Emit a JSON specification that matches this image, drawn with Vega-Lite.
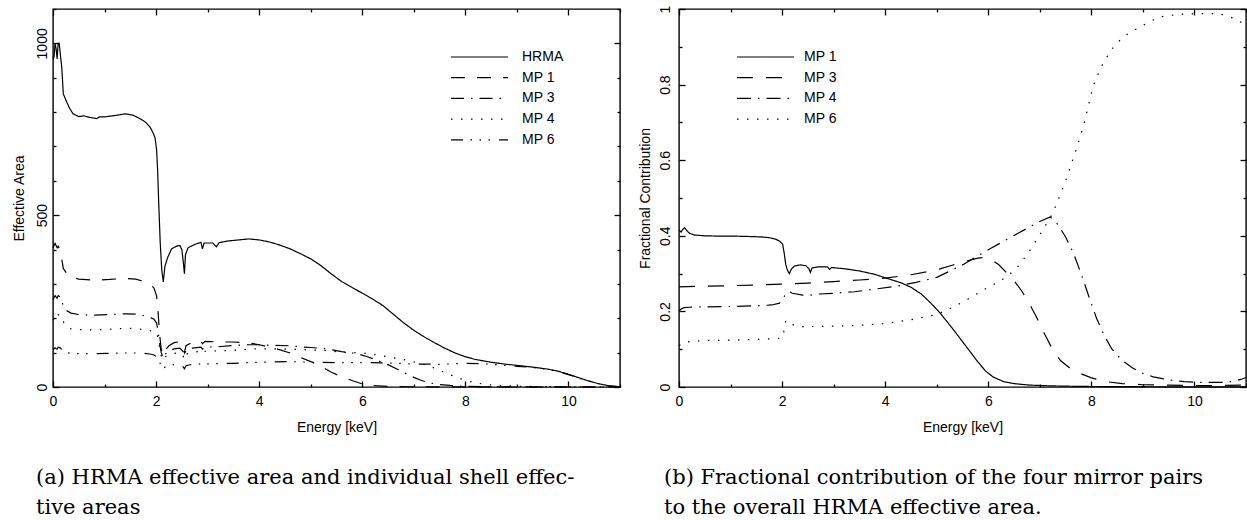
{
  "$schema": "https://vega.github.io/schema/vega-lite/v6.json",
  "padding": {"left": 11, "top": 4, "right": 0, "bottom": 0},
  "background": "white",
  "config": {
    "view": {"stroke": "black", "strokeWidth": 1.4},
    "font": "Liberation Sans",
    "axis": {"domain": false, "tickColor": "black", "labelColor": "black", "titleColor": "black", "labelFont": "Liberation Sans", "titleFont": "Liberation Sans", "labelFontSize": 14, "titleFontSize": 14, "titleFontWeight": "normal", "grid": false, "tickWidth": 1.3, "labelFlush": false, "labelOverlap": false},
    "legend": {"orient": "none", "symbolType": "stroke", "symbolSize": 3249, "symbolStrokeWidth": 1.2, "symbolStrokeColor": "black", "clipHeight": 14, "rowPadding": 6.7, "labelFont": "Liberation Sans", "labelFontSize": 14, "labelColor": "black", "padding": 0, "title": null},
    "title": {"font": "DejaVu Serif", "fontSize": 21, "fontWeight": "normal", "color": "black", "lineHeight": 30}
  },
  "datasets": {
    "area": [
      {"series":"HRMA","E":0.0,"value":955},{"series":"HRMA","E":0.02,"value":960},{"series":"HRMA","E":0.04,"value":1000},{"series":"HRMA","E":0.06,"value":985},{"series":"HRMA","E":0.08,"value":955},{"series":"HRMA","E":0.1,"value":1000},{"series":"HRMA","E":0.12,"value":1000},{"series":"HRMA","E":0.17,"value":930},{"series":"HRMA","E":0.2,"value":853},{"series":"HRMA","E":0.27,"value":828},{"series":"HRMA","E":0.33,"value":809},{"series":"HRMA","E":0.39,"value":795},{"series":"HRMA","E":0.5,"value":787},{"series":"HRMA","E":0.6,"value":789},{"series":"HRMA","E":0.7,"value":785},{"series":"HRMA","E":0.85,"value":781},{"series":"HRMA","E":0.9,"value":786},{"series":"HRMA","E":1.0,"value":786},{"series":"HRMA","E":1.2,"value":790},{"series":"HRMA","E":1.4,"value":795},{"series":"HRMA","E":1.55,"value":791},{"series":"HRMA","E":1.7,"value":780},{"series":"HRMA","E":1.8,"value":770},{"series":"HRMA","E":1.88,"value":757},{"series":"HRMA","E":1.94,"value":740},{"series":"HRMA","E":1.98,"value":725},{"series":"HRMA","E":2.01,"value":690},{"series":"HRMA","E":2.03,"value":630},{"series":"HRMA","E":2.05,"value":540},{"series":"HRMA","E":2.08,"value":420},{"series":"HRMA","E":2.11,"value":340},{"series":"HRMA","E":2.14,"value":306},{"series":"HRMA","E":2.17,"value":350},{"series":"HRMA","E":2.22,"value":375},{"series":"HRMA","E":2.3,"value":402},{"series":"HRMA","E":2.4,"value":410},{"series":"HRMA","E":2.46,"value":412},{"series":"HRMA","E":2.5,"value":400},{"series":"HRMA","E":2.53,"value":360},{"series":"HRMA","E":2.55,"value":330},{"series":"HRMA","E":2.57,"value":385},{"series":"HRMA","E":2.62,"value":405},{"series":"HRMA","E":2.75,"value":415},{"series":"HRMA","E":2.87,"value":421},{"series":"HRMA","E":2.9,"value":402},{"series":"HRMA","E":2.93,"value":419},{"series":"HRMA","E":3.1,"value":419},{"series":"HRMA","E":3.17,"value":408},{"series":"HRMA","E":3.22,"value":420},{"series":"HRMA","E":3.4,"value":425},{"series":"HRMA","E":3.6,"value":428},{"series":"HRMA","E":3.8,"value":431},{"series":"HRMA","E":4.0,"value":428},{"series":"HRMA","E":4.2,"value":422},{"series":"HRMA","E":4.4,"value":413},{"series":"HRMA","E":4.6,"value":402},{"series":"HRMA","E":4.8,"value":388},{"series":"HRMA","E":5.0,"value":373},{"series":"HRMA","E":5.2,"value":353},{"series":"HRMA","E":5.4,"value":329},{"series":"HRMA","E":5.6,"value":307},{"series":"HRMA","E":5.8,"value":290},{"series":"HRMA","E":6.0,"value":273},{"series":"HRMA","E":6.2,"value":256},{"series":"HRMA","E":6.4,"value":237},{"series":"HRMA","E":6.6,"value":212},{"series":"HRMA","E":6.8,"value":187},{"series":"HRMA","E":7.0,"value":165},{"series":"HRMA","E":7.2,"value":146},{"series":"HRMA","E":7.4,"value":129},{"series":"HRMA","E":7.6,"value":113},{"series":"HRMA","E":7.8,"value":99},{"series":"HRMA","E":8.0,"value":88},{"series":"HRMA","E":8.2,"value":80},{"series":"HRMA","E":8.5,"value":72},{"series":"HRMA","E":8.8,"value":66},{"series":"HRMA","E":9.0,"value":63},{"series":"HRMA","E":9.3,"value":58},{"series":"HRMA","E":9.6,"value":52},{"series":"HRMA","E":9.8,"value":46},{"series":"HRMA","E":10.0,"value":37},{"series":"HRMA","E":10.2,"value":27},{"series":"HRMA","E":10.4,"value":17},{"series":"HRMA","E":10.6,"value":9},{"series":"HRMA","E":10.8,"value":3},{"series":"HRMA","E":11.0,"value":0.5},
      {"series":"MP 1","E":0.0,"value":405},{"series":"MP 1","E":0.04,"value":418},{"series":"MP 1","E":0.08,"value":405},{"series":"MP 1","E":0.1,"value":410},{"series":"MP 1","E":0.14,"value":400},{"series":"MP 1","E":0.2,"value":345},{"series":"MP 1","E":0.27,"value":330},{"series":"MP 1","E":0.35,"value":320},{"series":"MP 1","E":0.5,"value":314},{"series":"MP 1","E":0.8,"value":311},{"series":"MP 1","E":1.1,"value":313},{"series":"MP 1","E":1.4,"value":316},{"series":"MP 1","E":1.6,"value":314},{"series":"MP 1","E":1.75,"value":308},{"series":"MP 1","E":1.88,"value":299},{"series":"MP 1","E":1.96,"value":288},{"series":"MP 1","E":2.01,"value":265},{"series":"MP 1","E":2.04,"value":215},{"series":"MP 1","E":2.07,"value":150},{"series":"MP 1","E":2.1,"value":110},{"series":"MP 1","E":2.14,"value":92},{"series":"MP 1","E":2.18,"value":108},{"series":"MP 1","E":2.25,"value":120},{"series":"MP 1","E":2.35,"value":129},{"series":"MP 1","E":2.46,"value":132},{"series":"MP 1","E":2.52,"value":115},{"series":"MP 1","E":2.55,"value":100},{"series":"MP 1","E":2.58,"value":120},{"series":"MP 1","E":2.7,"value":130},{"series":"MP 1","E":2.87,"value":134},{"series":"MP 1","E":2.9,"value":126},{"series":"MP 1","E":2.95,"value":133},{"series":"MP 1","E":3.2,"value":131},{"series":"MP 1","E":3.5,"value":131},{"series":"MP 1","E":3.8,"value":128},{"series":"MP 1","E":4.0,"value":123},{"series":"MP 1","E":4.3,"value":113},{"series":"MP 1","E":4.6,"value":99},{"series":"MP 1","E":4.8,"value":86},{"series":"MP 1","E":5.0,"value":74},{"series":"MP 1","E":5.2,"value":60},{"series":"MP 1","E":5.4,"value":43},{"series":"MP 1","E":5.6,"value":30},{"series":"MP 1","E":5.8,"value":19},{"series":"MP 1","E":6.0,"value":9},{"series":"MP 1","E":6.2,"value":4.6},{"series":"MP 1","E":6.5,"value":2},{"series":"MP 1","E":7.0,"value":0.7},{"series":"MP 1","E":7.5,"value":0.3},{"series":"MP 1","E":8.0,"value":0.1},{"series":"MP 1","E":9.0,"value":0.05},{"series":"MP 1","E":10.0,"value":0.02},{"series":"MP 1","E":11.0,"value":0},
      {"series":"MP 3","E":0.0,"value":254},{"series":"MP 3","E":0.04,"value":266},{"series":"MP 3","E":0.08,"value":258},{"series":"MP 3","E":0.1,"value":266},{"series":"MP 3","E":0.14,"value":262},{"series":"MP 3","E":0.2,"value":236},{"series":"MP 3","E":0.27,"value":222},{"series":"MP 3","E":0.35,"value":215},{"series":"MP 3","E":0.5,"value":211},{"series":"MP 3","E":0.8,"value":209},{"series":"MP 3","E":1.1,"value":211},{"series":"MP 3","E":1.4,"value":213},{"series":"MP 3","E":1.6,"value":212},{"series":"MP 3","E":1.75,"value":208},{"series":"MP 3","E":1.88,"value":203},{"series":"MP 3","E":1.96,"value":197},{"series":"MP 3","E":2.01,"value":186},{"series":"MP 3","E":2.04,"value":160},{"series":"MP 3","E":2.07,"value":125},{"series":"MP 3","E":2.1,"value":100},{"series":"MP 3","E":2.14,"value":84},{"series":"MP 3","E":2.18,"value":96},{"series":"MP 3","E":2.25,"value":105},{"series":"MP 3","E":2.35,"value":111},{"series":"MP 3","E":2.46,"value":113},{"series":"MP 3","E":2.52,"value":104},{"series":"MP 3","E":2.55,"value":91},{"series":"MP 3","E":2.58,"value":106},{"series":"MP 3","E":2.7,"value":113},{"series":"MP 3","E":2.87,"value":116},{"series":"MP 3","E":2.9,"value":110},{"series":"MP 3","E":2.95,"value":116},{"series":"MP 3","E":3.2,"value":117},{"series":"MP 3","E":3.5,"value":121},{"series":"MP 3","E":3.8,"value":123},{"series":"MP 3","E":4.0,"value":123},{"series":"MP 3","E":4.3,"value":121},{"series":"MP 3","E":4.6,"value":120},{"series":"MP 3","E":4.8,"value":117},{"series":"MP 3","E":5.0,"value":115},{"series":"MP 3","E":5.3,"value":111},{"series":"MP 3","E":5.6,"value":103},{"series":"MP 3","E":5.9,"value":97},{"series":"MP 3","E":6.1,"value":88},{"series":"MP 3","E":6.3,"value":77},{"series":"MP 3","E":6.5,"value":65},{"series":"MP 3","E":6.7,"value":50},{"series":"MP 3","E":6.85,"value":39},{"series":"MP 3","E":7.0,"value":28},{"series":"MP 3","E":7.15,"value":19},{"series":"MP 3","E":7.3,"value":12},{"series":"MP 3","E":7.5,"value":7},{"series":"MP 3","E":7.7,"value":4.5},{"series":"MP 3","E":8.0,"value":2},{"series":"MP 3","E":8.5,"value":0.6},{"series":"MP 3","E":9.0,"value":0.4},{"series":"MP 3","E":10.0,"value":0.15},{"series":"MP 3","E":11.0,"value":0},
      {"series":"MP 4","E":0.0,"value":194},{"series":"MP 4","E":0.04,"value":205},{"series":"MP 4","E":0.08,"value":200},{"series":"MP 4","E":0.1,"value":210},{"series":"MP 4","E":0.14,"value":210},{"series":"MP 4","E":0.2,"value":190},{"series":"MP 4","E":0.27,"value":175},{"series":"MP 4","E":0.35,"value":169},{"series":"MP 4","E":0.5,"value":167},{"series":"MP 4","E":0.8,"value":166},{"series":"MP 4","E":1.1,"value":168},{"series":"MP 4","E":1.4,"value":171},{"series":"MP 4","E":1.6,"value":170},{"series":"MP 4","E":1.75,"value":167},{"series":"MP 4","E":1.88,"value":164},{"series":"MP 4","E":1.96,"value":161},{"series":"MP 4","E":2.01,"value":158},{"series":"MP 4","E":2.04,"value":140},{"series":"MP 4","E":2.07,"value":112},{"series":"MP 4","E":2.1,"value":90},{"series":"MP 4","E":2.14,"value":77},{"series":"MP 4","E":2.18,"value":88},{"series":"MP 4","E":2.25,"value":93},{"series":"MP 4","E":2.35,"value":98},{"series":"MP 4","E":2.46,"value":100},{"series":"MP 4","E":2.52,"value":92},{"series":"MP 4","E":2.55,"value":80},{"series":"MP 4","E":2.58,"value":95},{"series":"MP 4","E":2.7,"value":101},{"series":"MP 4","E":2.87,"value":104},{"series":"MP 4","E":2.9,"value":98},{"series":"MP 4","E":2.95,"value":104},{"series":"MP 4","E":3.2,"value":105},{"series":"MP 4","E":3.5,"value":107},{"series":"MP 4","E":3.8,"value":110},{"series":"MP 4","E":4.0,"value":111},{"series":"MP 4","E":4.3,"value":111},{"series":"MP 4","E":4.6,"value":110},{"series":"MP 4","E":4.8,"value":109},{"series":"MP 4","E":5.0,"value":108},{"series":"MP 4","E":5.3,"value":106},{"series":"MP 4","E":5.6,"value":101},{"series":"MP 4","E":6.0,"value":99},{"series":"MP 4","E":6.3,"value":93},{"series":"MP 4","E":6.6,"value":85},{"series":"MP 4","E":6.9,"value":77},{"series":"MP 4","E":7.1,"value":69},{"series":"MP 4","E":7.25,"value":64},{"series":"MP 4","E":7.4,"value":55},{"series":"MP 4","E":7.6,"value":42},{"series":"MP 4","E":7.8,"value":30},{"series":"MP 4","E":8.0,"value":19},{"series":"MP 4","E":8.2,"value":12},{"series":"MP 4","E":8.4,"value":7.5},{"series":"MP 4","E":8.6,"value":5},{"series":"MP 4","E":9.0,"value":2.3},{"series":"MP 4","E":9.5,"value":1.1},{"series":"MP 4","E":10.0,"value":0.5},{"series":"MP 4","E":10.5,"value":0.2},{"series":"MP 4","E":11.0,"value":0},
      {"series":"MP 6","E":0.0,"value":108},{"series":"MP 6","E":0.04,"value":114},{"series":"MP 6","E":0.08,"value":110},{"series":"MP 6","E":0.1,"value":116},{"series":"MP 6","E":0.14,"value":114},{"series":"MP 6","E":0.2,"value":105},{"series":"MP 6","E":0.27,"value":100},{"series":"MP 6","E":0.35,"value":98},{"series":"MP 6","E":0.5,"value":97},{"series":"MP 6","E":0.8,"value":97},{"series":"MP 6","E":1.1,"value":98},{"series":"MP 6","E":1.4,"value":99},{"series":"MP 6","E":1.6,"value":99},{"series":"MP 6","E":1.75,"value":98},{"series":"MP 6","E":1.88,"value":96},{"series":"MP 6","E":1.96,"value":93},{"series":"MP 6","E":2.01,"value":88},{"series":"MP 6","E":2.04,"value":80},{"series":"MP 6","E":2.07,"value":72},{"series":"MP 6","E":2.1,"value":60},{"series":"MP 6","E":2.14,"value":52},{"series":"MP 6","E":2.18,"value":59},{"series":"MP 6","E":2.25,"value":62},{"series":"MP 6","E":2.35,"value":65},{"series":"MP 6","E":2.46,"value":65},{"series":"MP 6","E":2.52,"value":60},{"series":"MP 6","E":2.55,"value":53},{"series":"MP 6","E":2.58,"value":62},{"series":"MP 6","E":2.7,"value":66},{"series":"MP 6","E":2.87,"value":67},{"series":"MP 6","E":2.9,"value":64},{"series":"MP 6","E":2.95,"value":67},{"series":"MP 6","E":3.2,"value":68},{"series":"MP 6","E":3.5,"value":69},{"series":"MP 6","E":3.8,"value":71},{"series":"MP 6","E":4.0,"value":72},{"series":"MP 6","E":4.3,"value":73},{"series":"MP 6","E":4.6,"value":74},{"series":"MP 6","E":5.0,"value":72},{"series":"MP 6","E":5.5,"value":71},{"series":"MP 6","E":6.0,"value":71},{"series":"MP 6","E":6.5,"value":70},{"series":"MP 6","E":7.0,"value":67},{"series":"MP 6","E":7.5,"value":66},{"series":"MP 6","E":8.0,"value":69},{"series":"MP 6","E":8.3,"value":68},{"series":"MP 6","E":8.6,"value":65},{"series":"MP 6","E":9.0,"value":60},{"series":"MP 6","E":9.3,"value":57},{"series":"MP 6","E":9.6,"value":51},{"series":"MP 6","E":9.8,"value":45},{"series":"MP 6","E":10.0,"value":36},{"series":"MP 6","E":10.2,"value":26},{"series":"MP 6","E":10.4,"value":17},{"series":"MP 6","E":10.6,"value":9},{"series":"MP 6","E":10.8,"value":3},{"series":"MP 6","E":11.0,"value":0.5}
    ],
    "frac": [
      {"series":"MP 1","E":0.0,"value":0.415},{"series":"MP 1","E":0.04,"value":0.41},{"series":"MP 1","E":0.08,"value":0.418},{"series":"MP 1","E":0.11,"value":0.421},{"series":"MP 1","E":0.15,"value":0.414},{"series":"MP 1","E":0.2,"value":0.407},{"series":"MP 1","E":0.3,"value":0.402},{"series":"MP 1","E":0.5,"value":0.4},{"series":"MP 1","E":0.8,"value":0.399},{"series":"MP 1","E":1.1,"value":0.399},{"series":"MP 1","E":1.4,"value":0.398},{"series":"MP 1","E":1.6,"value":0.397},{"series":"MP 1","E":1.75,"value":0.395},{"series":"MP 1","E":1.88,"value":0.391},{"series":"MP 1","E":1.96,"value":0.385},{"series":"MP 1","E":2.01,"value":0.378},{"series":"MP 1","E":2.04,"value":0.355},{"series":"MP 1","E":2.07,"value":0.325},{"series":"MP 1","E":2.1,"value":0.31},{"series":"MP 1","E":2.14,"value":0.3},{"series":"MP 1","E":2.18,"value":0.312},{"series":"MP 1","E":2.24,"value":0.32},{"series":"MP 1","E":2.35,"value":0.323},{"series":"MP 1","E":2.46,"value":0.321},{"series":"MP 1","E":2.52,"value":0.313},{"series":"MP 1","E":2.55,"value":0.303},{"series":"MP 1","E":2.58,"value":0.315},{"series":"MP 1","E":2.7,"value":0.318},{"series":"MP 1","E":2.88,"value":0.318},{"series":"MP 1","E":2.92,"value":0.311},{"series":"MP 1","E":2.96,"value":0.316},{"series":"MP 1","E":3.2,"value":0.313},{"series":"MP 1","E":3.5,"value":0.307},{"series":"MP 1","E":3.8,"value":0.298},{"series":"MP 1","E":4.0,"value":0.289},{"series":"MP 1","E":4.3,"value":0.276},{"series":"MP 1","E":4.5,"value":0.264},{"series":"MP 1","E":4.7,"value":0.246},{"series":"MP 1","E":4.9,"value":0.22},{"series":"MP 1","E":5.05,"value":0.198},{"series":"MP 1","E":5.2,"value":0.173},{"series":"MP 1","E":5.35,"value":0.147},{"series":"MP 1","E":5.5,"value":0.12},{"series":"MP 1","E":5.65,"value":0.093},{"series":"MP 1","E":5.8,"value":0.066},{"series":"MP 1","E":5.95,"value":0.042},{"series":"MP 1","E":6.1,"value":0.026},{"series":"MP 1","E":6.3,"value":0.014},{"series":"MP 1","E":6.5,"value":0.009},{"series":"MP 1","E":6.8,"value":0.005},{"series":"MP 1","E":7.2,"value":0.003},{"series":"MP 1","E":7.8,"value":0.0015},{"series":"MP 1","E":8.5,"value":0.001},{"series":"MP 1","E":9.5,"value":0.0005},{"series":"MP 1","E":11.0,"value":0.0003},
      {"series":"MP 3","E":0.0,"value":0.265},{"series":"MP 3","E":0.5,"value":0.267},{"series":"MP 3","E":1.0,"value":0.268},{"series":"MP 3","E":1.5,"value":0.27},{"series":"MP 3","E":2.0,"value":0.272},{"series":"MP 3","E":2.5,"value":0.275},{"series":"MP 3","E":3.0,"value":0.279},{"series":"MP 3","E":3.5,"value":0.283},{"series":"MP 3","E":4.0,"value":0.288},{"series":"MP 3","E":4.5,"value":0.297},{"series":"MP 3","E":5.0,"value":0.31},{"series":"MP 3","E":5.3,"value":0.322},{"series":"MP 3","E":5.6,"value":0.334},{"series":"MP 3","E":5.8,"value":0.341},{"series":"MP 3","E":5.93,"value":0.343},{"series":"MP 3","E":6.05,"value":0.338},{"series":"MP 3","E":6.2,"value":0.324},{"series":"MP 3","E":6.35,"value":0.303},{"series":"MP 3","E":6.5,"value":0.281},{"series":"MP 3","E":6.65,"value":0.254},{"series":"MP 3","E":6.8,"value":0.22},{"series":"MP 3","E":6.95,"value":0.181},{"series":"MP 3","E":7.1,"value":0.138},{"series":"MP 3","E":7.25,"value":0.099},{"series":"MP 3","E":7.4,"value":0.07},{"series":"MP 3","E":7.6,"value":0.048},{"series":"MP 3","E":7.8,"value":0.035},{"series":"MP 3","E":8.0,"value":0.024},{"series":"MP 3","E":8.3,"value":0.014},{"series":"MP 3","E":8.6,"value":0.009},{"series":"MP 3","E":9.0,"value":0.006},{"series":"MP 3","E":9.5,"value":0.005},{"series":"MP 3","E":10.0,"value":0.004},{"series":"MP 3","E":10.5,"value":0.004},{"series":"MP 3","E":11.0,"value":0.005},
      {"series":"MP 4","E":0.0,"value":0.202},{"series":"MP 4","E":0.05,"value":0.207},{"series":"MP 4","E":0.1,"value":0.21},{"series":"MP 4","E":0.2,"value":0.211},{"series":"MP 4","E":0.5,"value":0.212},{"series":"MP 4","E":1.0,"value":0.213},{"series":"MP 4","E":1.5,"value":0.215},{"series":"MP 4","E":1.8,"value":0.217},{"series":"MP 4","E":1.95,"value":0.222},{"series":"MP 4","E":2.02,"value":0.232},{"series":"MP 4","E":2.06,"value":0.245},{"series":"MP 4","E":2.1,"value":0.251},{"series":"MP 4","E":2.14,"value":0.252},{"series":"MP 4","E":2.2,"value":0.248},{"series":"MP 4","E":2.4,"value":0.243},{"series":"MP 4","E":2.55,"value":0.243},{"series":"MP 4","E":2.7,"value":0.246},{"series":"MP 4","E":3.0,"value":0.248},{"series":"MP 4","E":3.4,"value":0.252},{"series":"MP 4","E":3.8,"value":0.259},{"series":"MP 4","E":4.2,"value":0.266},{"series":"MP 4","E":4.6,"value":0.277},{"series":"MP 4","E":5.0,"value":0.29},{"series":"MP 4","E":5.5,"value":0.323},{"series":"MP 4","E":6.0,"value":0.363},{"series":"MP 4","E":6.5,"value":0.401},{"series":"MP 4","E":7.0,"value":0.438},{"series":"MP 4","E":7.2,"value":0.45},{"series":"MP 4","E":7.35,"value":0.43},{"series":"MP 4","E":7.5,"value":0.397},{"series":"MP 4","E":7.65,"value":0.355},{"series":"MP 4","E":7.8,"value":0.3},{"series":"MP 4","E":7.95,"value":0.24},{"series":"MP 4","E":8.1,"value":0.182},{"series":"MP 4","E":8.25,"value":0.136},{"series":"MP 4","E":8.4,"value":0.1},{"series":"MP 4","E":8.6,"value":0.07},{"series":"MP 4","E":8.8,"value":0.05},{"series":"MP 4","E":9.0,"value":0.036},{"series":"MP 4","E":9.2,"value":0.027},{"series":"MP 4","E":9.5,"value":0.019},{"series":"MP 4","E":9.8,"value":0.014},{"series":"MP 4","E":10.2,"value":0.012},{"series":"MP 4","E":10.5,"value":0.012},{"series":"MP 4","E":10.7,"value":0.014},{"series":"MP 4","E":10.9,"value":0.02},{"series":"MP 4","E":11.0,"value":0.025},
      {"series":"MP 6","E":0.0,"value":0.11},{"series":"MP 6","E":0.05,"value":0.112},{"series":"MP 6","E":0.1,"value":0.118},{"series":"MP 6","E":0.2,"value":0.12},{"series":"MP 6","E":0.5,"value":0.123},{"series":"MP 6","E":1.0,"value":0.124},{"series":"MP 6","E":1.5,"value":0.126},{"series":"MP 6","E":1.9,"value":0.128},{"series":"MP 6","E":2.0,"value":0.13},{"series":"MP 6","E":2.04,"value":0.15},{"series":"MP 6","E":2.07,"value":0.176},{"series":"MP 6","E":2.12,"value":0.17},{"series":"MP 6","E":2.2,"value":0.165},{"series":"MP 6","E":2.35,"value":0.162},{"series":"MP 6","E":2.47,"value":0.157},{"series":"MP 6","E":2.55,"value":0.16},{"series":"MP 6","E":2.7,"value":0.16},{"series":"MP 6","E":3.0,"value":0.161},{"series":"MP 6","E":3.5,"value":0.163},{"series":"MP 6","E":4.0,"value":0.168},{"series":"MP 6","E":4.5,"value":0.178},{"series":"MP 6","E":5.0,"value":0.192},{"series":"MP 6","E":5.3,"value":0.21},{"series":"MP 6","E":5.6,"value":0.232},{"series":"MP 6","E":5.95,"value":0.26},{"series":"MP 6","E":6.2,"value":0.278},{"series":"MP 6","E":6.4,"value":0.296},{"series":"MP 6","E":6.6,"value":0.322},{"series":"MP 6","E":6.8,"value":0.36},{"series":"MP 6","E":7.0,"value":0.403},{"series":"MP 6","E":7.25,"value":0.459},{"series":"MP 6","E":7.5,"value":0.545},{"series":"MP 6","E":7.7,"value":0.626},{"series":"MP 6","E":7.86,"value":0.697},{"series":"MP 6","E":8.03,"value":0.794},{"series":"MP 6","E":8.19,"value":0.847},{"series":"MP 6","E":8.38,"value":0.891},{"series":"MP 6","E":8.61,"value":0.926},{"series":"MP 6","E":8.93,"value":0.952},{"series":"MP 6","E":9.32,"value":0.979},{"series":"MP 6","E":9.7,"value":0.986},{"series":"MP 6","E":10.15,"value":0.988},{"series":"MP 6","E":10.48,"value":0.988},{"series":"MP 6","E":10.77,"value":0.975},{"series":"MP 6","E":10.96,"value":0.961},{"series":"MP 6","E":11.0,"value":0.958}
    ]
  },
  "bounds": "flush",
  "spacing": 59,
  "resolve": {"scale": {"strokeDash": "independent"}, "legend": {"strokeDash": "independent"}},
  "hconcat": [
    {
      "width": 567,
      "height": 378,
      "data": {"name": "area"},
      "title": {"text": ["(a) HRMA effective area and individual shell effec-", "tive areas"], "orient": "bottom", "anchor": "start", "frame": "group", "dx": -17, "offset": 33},
      "layer": [
        {
          "mark": {"type": "line", "color": "black", "strokeWidth": 1.2, "strokeCap": "butt"},
          "encoding": {
            "x": {"field": "E", "type": "quantitative", "scale": {"domain": [0, 11], "nice": false, "zero": false},
              "axis": {"orient": "bottom", "values": [0,2,4,6,8,10], "ticks": false, "labelPadding": 7, "title": "Energy [keV]", "titlePadding": 12}},
            "y": {"field": "value", "type": "quantitative", "scale": {"domain": [0, 1100], "nice": false},
              "axis": {"orient": "left", "values": [0,500,1000], "format": "d", "ticks": false, "labelAngle": -90, "labelAlign": "center", "labelBaseline": "bottom", "labelPadding": 4, "title": "Effective Area", "titlePadding": 9}},
            "strokeDash": {"field": "series", "type": "nominal",
              "scale": {"domain": ["HRMA", "MP 1", "MP 3", "MP 4", "MP 6"], "range": [[1, 0], [14, 12], [13, 7, 1.5, 7], [1.5, 8.5], [12, 7.5, 1.5, 7.5, 1.5, 7.5, 1.5, 9]]},
              "legend": {"legendX": 397, "legendY": 41, "labelOffset": 13}}
          }
        },
        {
          "mark": {"type": "point", "opacity": 0},
          "encoding": {
            "x": {"field": "E", "type": "quantitative", "axis": {"orient": "bottom", "values": [0,2,4,6,8,10], "labels": false, "title": null, "offset": -6, "tickSize": 6}},
            "y": {"field": "value", "type": "quantitative", "axis": {"orient": "left", "values": [0,500,1000], "labels": false, "title": null, "offset": -6, "tickSize": 6}}
          }
        },
        {
          "mark": {"type": "point", "opacity": 0},
          "encoding": {
            "x": {"field": "E", "type": "quantitative", "axis": {"orient": "bottom", "values": [1,3,5,7,9,11], "labels": false, "title": null, "offset": -3, "tickSize": 3}},
            "y": {"field": "value", "type": "quantitative", "axis": {"orient": "left", "values": [100,200,300,400,600,700,800,900,1100], "labels": false, "title": null, "offset": -3, "tickSize": 3}}
          }
        },
        {
          "mark": {"type": "point", "opacity": 0},
          "encoding": {
            "x": {"field": "E", "type": "quantitative", "axis": {"orient": "top", "values": [0,2,4,6,8,10], "labels": false, "title": null, "offset": -6, "tickSize": 6}},
            "y": {"field": "value", "type": "quantitative", "axis": {"orient": "right", "values": [0,500,1000], "labels": false, "title": null, "offset": -6, "tickSize": 6}}
          }
        },
        {
          "mark": {"type": "point", "opacity": 0},
          "encoding": {
            "x": {"field": "E", "type": "quantitative", "axis": {"orient": "top", "values": [1,3,5,7,9,11], "labels": false, "title": null, "offset": -3, "tickSize": 3}},
            "y": {"field": "value", "type": "quantitative", "axis": {"orient": "right", "values": [100,200,300,400,600,700,800,900,1100], "labels": false, "title": null, "offset": -3, "tickSize": 3}}
          }
        }
      ],
      "resolve": {"axis": {"x": "independent", "y": "independent"}}
    },
    {
      "width": 567,
      "height": 378,
      "data": {"name": "frac"},
      "title": {"text": ["(b) Fractional contribution of the four mirror pairs", "to the overall HRMA effective area."], "orient": "bottom", "anchor": "start", "frame": "group", "dx": -15, "offset": 33},
      "layer": [
        {
          "mark": {"type": "line", "color": "black", "strokeWidth": 1.2, "strokeCap": "butt"},
          "encoding": {
            "x": {"field": "E", "type": "quantitative", "scale": {"domain": [0, 11], "nice": false, "zero": false},
              "axis": {"orient": "bottom", "values": [0,2,4,6,8,10], "ticks": false, "labelPadding": 7, "title": "Energy [keV]", "titlePadding": 12}},
            "y": {"field": "value", "type": "quantitative", "scale": {"domain": [0, 1], "nice": false},
              "axis": {"orient": "left", "values": [0,0.2,0.4,0.6,0.8,1], "format": "~g", "ticks": false, "labelAngle": -90, "labelAlign": "center", "labelBaseline": "bottom", "labelPadding": 7, "title": "Fractional Contribution", "titlePadding": 6}},
            "strokeDash": {"field": "series", "type": "nominal",
              "scale": {"domain": ["MP 1", "MP 3", "MP 4", "MP 6"], "range": [[1, 0], [16, 13], [14, 7, 1.5, 7], [1.5, 8.5]]},
              "legend": {"legendX": 57, "legendY": 41, "labelOffset": 9}}
          }
        },
        {
          "mark": {"type": "point", "opacity": 0},
          "encoding": {
            "x": {"field": "E", "type": "quantitative", "axis": {"orient": "bottom", "values": [0,2,4,6,8,10], "labels": false, "title": null, "offset": -6, "tickSize": 6}},
            "y": {"field": "value", "type": "quantitative", "axis": {"orient": "left", "values": [0,0.2,0.4,0.6,0.8,1], "labels": false, "title": null, "offset": -6, "tickSize": 6}}
          }
        },
        {
          "mark": {"type": "point", "opacity": 0},
          "encoding": {
            "x": {"field": "E", "type": "quantitative", "axis": {"orient": "bottom", "values": [1,3,5,7,9,11], "labels": false, "title": null, "offset": -3, "tickSize": 3}},
            "y": {"field": "value", "type": "quantitative", "axis": {"orient": "left", "values": [0.1,0.3,0.5,0.7,0.9], "labels": false, "title": null, "offset": -3, "tickSize": 3}}
          }
        },
        {
          "mark": {"type": "point", "opacity": 0},
          "encoding": {
            "x": {"field": "E", "type": "quantitative", "axis": {"orient": "top", "values": [0,2,4,6,8,10], "labels": false, "title": null, "offset": -6, "tickSize": 6}},
            "y": {"field": "value", "type": "quantitative", "axis": {"orient": "right", "values": [0,0.2,0.4,0.6,0.8,1], "labels": false, "title": null, "offset": -6, "tickSize": 6}}
          }
        },
        {
          "mark": {"type": "point", "opacity": 0},
          "encoding": {
            "x": {"field": "E", "type": "quantitative", "axis": {"orient": "top", "values": [1,3,5,7,9,11], "labels": false, "title": null, "offset": -3, "tickSize": 3}},
            "y": {"field": "value", "type": "quantitative", "axis": {"orient": "right", "values": [0.1,0.3,0.5,0.7,0.9], "labels": false, "title": null, "offset": -3, "tickSize": 3}}
          }
        }
      ],
      "resolve": {"axis": {"x": "independent", "y": "independent"}}
    }
  ]
}
